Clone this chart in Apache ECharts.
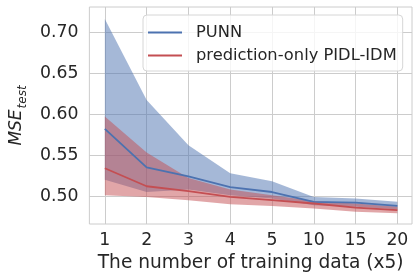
<!DOCTYPE html>
<html>
<head>
<meta charset="utf-8">
<script src="https://cdn.jsdelivr.net/npm/echarts@6/dist/echarts.min.js"></script>
<style>html,body{margin:0;padding:0;background:#fff;}#c{width:419px;height:278px;}</style>
</head>
<body>
<div id="c"></div>
<script>
const xLabels = ['1', '2', '3', '4', '5', '10', '15', '20'];
const yTicks = [0.50, 0.55, 0.60, 0.65, 0.70];
const punnMean  = [0.582, 0.535, 0.524, 0.511, 0.505, 0.493, 0.492, 0.488];
const punnUpper = [0.716, 0.617, 0.562, 0.528, 0.518, 0.499, 0.497, 0.493];
const punnLower = [0.520, 0.505, 0.508, 0.501, 0.497, 0.489, 0.487, 0.484];
const pidlMean  = [0.534, 0.512, 0.506, 0.499, 0.495, 0.491, 0.486, 0.483];
const pidlUpper = [0.597, 0.553, 0.522, 0.508, 0.501, 0.494, 0.491, 0.487];
const pidlLower = [0.501, 0.499, 0.495, 0.490, 0.488, 0.485, 0.481, 0.479];

const xPos = xLabels.map((_, i) => i + 1);
const FONT = 'DejaVu Sans';
const BLUE = '#4c72b0', RED = '#c44e52';

function bandSeries(name, upper, lower, color) {
  return {
    type: 'custom',
    name: name,
    silent: true,
    z: 1,
    data: [[xPos[0], upper[0]]],
    encode: { x: 0, y: 1 },
    renderItem: function (params, api) {
      const pts = [];
      for (let i = 0; i < xPos.length; i++) pts.push(api.coord([xPos[i], upper[i]]));
      for (let i = xPos.length - 1; i >= 0; i--) pts.push(api.coord([xPos[i], lower[i]]));
      return {
        type: 'polygon',
        shape: { points: pts },
        style: { fill: color, opacity: 0.5, stroke: null }
      };
    }
  };
}

function lineSeries(name, vals, color) {
  return {
    type: 'line',
    name: name,
    data: vals.map((v, i) => [xPos[i], v]),
    symbol: 'none',
    z: 3,
    lineStyle: { color: color, width: 1.8 },
    itemStyle: { color: color }
  };
}

const chart = echarts.init(document.getElementById('c'));
chart.setOption({
  animation: false,
  backgroundColor: '#fff',
  textStyle: { fontFamily: FONT },
  grid: { left: 77, right: 7, top: 7, bottom: 54, show: true, borderColor: '#cccccc', borderWidth: 1, containLabel: false },
  legend: {
    data: [
      { name: 'PUNN', icon: 'rect' },
      { name: 'prediction-only PIDL-IDM', icon: 'rect' }
    ],
    orient: 'vertical',
    left: 143,
    top: 15,
    itemWidth: 34,
    itemHeight: 2,
    itemGap: 4,
    padding: [8, 6, 6, 5],
    borderColor: '#d6d6d6',
    borderWidth: 1,
    borderRadius: 4,
    backgroundColor: 'rgba(255,255,255,0.8)',
    textStyle: { fontFamily: FONT, fontSize: 16.3, lineHeight: 19, color: '#262626', padding: [0, 0, 0, 9] }
  },
  xAxis: {
    type: 'value',
    min: 0.63,
    max: 8.35,
    name: 'The number of training data (x5)',
    nameLocation: 'middle',
    nameGap: 26,
    nameTextStyle: { fontFamily: FONT, fontSize: 18.6, color: '#262626' },
    axisLine: { show: false },
    axisTick: { show: false, customValues: xPos },
    axisLabel: {
      customValues: xPos,
      formatter: v => xLabels[Math.round(v) - 1] || '',
      fontFamily: FONT, fontSize: 17.3, color: '#262626', margin: 8
    },
    splitLine: { show: true, lineStyle: { color: '#cccccc', width: 1 } }
  },
  yAxis: {
    type: 'value',
    min: 0.466,
    max: 0.7305,
    name: '{a|MSE}{b|test}',
    nameLocation: 'middle',
    nameRotate: 90,
    nameGap: 57,
    nameTextStyle: {
      rich: {
        a: { fontFamily: FONT, fontSize: 17, fontStyle: 'italic', color: '#262626', verticalAlign: 'bottom', lineHeight: 20 },
        b: { fontFamily: FONT, fontSize: 12, fontStyle: 'italic', color: '#262626', verticalAlign: 'bottom', lineHeight: 14, padding: [0, 0, -4, 1] }
      }
    },
    axisLine: { show: false },
    axisTick: { show: false, customValues: yTicks },
    axisLabel: {
      customValues: yTicks,
      formatter: v => v.toFixed(2),
      fontFamily: FONT, fontSize: 17.3, color: '#262626', margin: 11
    },
    splitLine: { show: true, lineStyle: { color: '#cccccc', width: 1 } }
  },
  series: [
    bandSeries('punnBand', punnUpper, punnLower, BLUE),
    bandSeries('pidlBand', pidlUpper, pidlLower, RED),
    lineSeries('PUNN', punnMean, BLUE),
    lineSeries('prediction-only PIDL-IDM', pidlMean, RED)
  ]
});
</script>
</body>
</html>
